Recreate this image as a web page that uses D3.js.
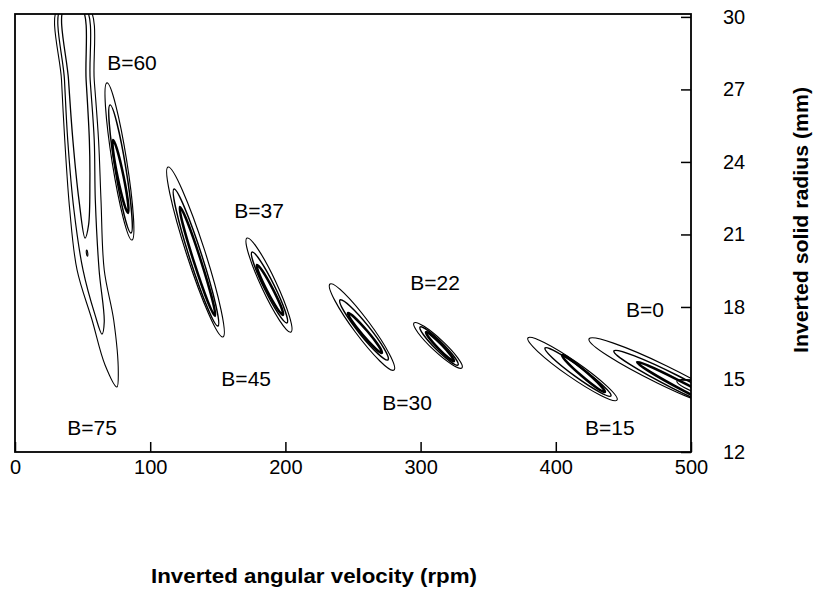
<!DOCTYPE html>
<html><head><meta charset="utf-8">
<script src="https://cdn.jsdelivr.net/npm/d3@7"></script>
<style>body{margin:0;background:#fff}svg{display:block}</style>
</head><body>
<svg id="chart" width="815" height="589"></svg>
<script>
// ---------- data ----------
const rpmTicks = [0, 100, 200, 300, 400, 500];
const radiusTicks = [12, 15, 18, 21, 24, 27, 30];

// group labels and their positions (rpm, mm)
const labelText   = ["B=75", "B=60", "B=45", "B=37", "B=30", "B=22", "B=15", "B=0"];
const labelRpm    = [57, 86.5, 171, 180.5, 290, 310.7, 440, 466];
const labelRadius = [13.0, 28.1, 15.06, 22.0, 14.03, 19.0, 13.0, 17.9];

// elliptical contours: group, level (0 outer, 1 middle, 2 inner), major-axis ends (rpm, mm), half width (rpm)
const ellGroup  = ["B=60","B=60","B=60","B=45","B=45","B=45","B=37","B=37","B=37",
                   "B=30","B=30","B=30","B=22","B=22","B=22","B=15","B=15","B=15",
                   "B=0","B=0","B=0","B=0","B=75"];
const ellLevel  = [0,1,2, 0,1,2, 0,1,2, 0,1,2, 0,1,2, 0,1,2, 0,1,2,0, 0];
const ellStart  = [[68.0,27.27],[70.3,26.36],[72.5,24.91],
                   [113.2,23.79],[117.6,22.88],[122.0,22.14],
                   [171.6,20.85],[175.3,20.27],[179.0,19.74],
                   [233.0,18.95],[240.4,18.29],[246.3,17.75],
                   [295.1,17.34],[299.6,17.17],[304.0,16.96],
                   [379.4,16.72],[392.0,16.30],[404.6,16.01],
                   [424.6,16.68],[443.0,16.18],[460.1,15.72],[489.6,14.94],
                   [53.0,20.35]];
const ellEnd    = [[86.5,20.77],[85.8,21.06],[83.6,21.89],
                   [153.8,16.76],[150.1,17.21],[147.9,17.63],
                   [204.1,16.96],[201.2,17.34],[198.2,17.67],
                   [280.3,15.39],[275.9,15.81],[271.4,16.10],
                   [330.6,15.48],[327.7,15.60],[324.7,15.76],
                   [445.3,14.15],[440.8,14.32],[436.4,14.48],
                   [532.5,13.74],[532.5,13.65],[532.5,13.57],[532.5,14.15],
                   [53.6,20.10]];
const ellHalfW  = [5.4,4.0,2.2, 6.8,4.6,2.6, 5.6,3.8,2.2, 6.2,4.2,2.2,
                   4.6,3.2,1.8, 5.8,3.8,2.2, 7.2,5.0,2.6,4.2, 0.5];

// B=75 curved contours (open beyond the top of the plot), outline points (rpm, mm)
const b75Outer  = [[31.8,30.37],[34.4,27.39],[36.8,24.91],[40.5,22.01],[45.9,19.53],[57.0,17.46],[66.6,15.60],[75.4,14.69],
                   [76.4,15.31],[73.0,17.46],[66.0,19.53],[63.6,22.43],[61.8,24.91],[58.6,27.39],[54.6,30.37]];
const b75Middle = [[34.0,30.37],[36.6,27.39],[39.0,24.91],[43.6,22.01],[50.3,19.53],[59.2,17.67],[64.3,16.88],
                   [66.0,17.38],[62.2,19.53],[59.4,22.43],[58.6,24.91],[55.6,27.39],[52.0,30.37]];
const b75Inner  = [[36.4,30.37],[39.6,27.39],[42.8,24.91],[47.3,22.43],[51.8,20.85],
                   [54.4,21.39],[55.4,23.25],[55.0,24.91],[52.6,27.39],[49.2,30.37]];

const xTitle = "Inverted angular velocity (rpm)";
const yTitle = "Inverted solid radius (mm)";

// ---------- drawing ----------
const FONT = "'Liberation Sans', Arial, Helvetica, sans-serif";
const svg = d3.select("#chart");
const x = d3.scaleLinear().domain([0, 500]).range([15, 691]);
const y = d3.scaleLinear().domain([12, 30.12]).range([452, 14]);

const levelStroke = [1.15, 1.5, 2.5];

svg.append("defs").append("clipPath").attr("id", "plotclip")
  .append("rect").attr("x", x(0)).attr("y", y(30.12))
  .attr("width", x(500) - x(0)).attr("height", y(12) - y(30.12));

const plot = svg.append("g").attr("clip-path", "url(#plotclip)");

// B=75 tubes
const line = d3.line().x(d => x(d[0])).y(d => y(d[1])).curve(d3.curveCatmullRomClosed.alpha(0.5));
[b75Outer, b75Middle, b75Inner].forEach((pts, i) => {
  plot.append("path").attr("d", line(pts))
    .attr("fill", "none").attr("stroke", "#000").attr("stroke-width", [1.1, 1.2, 1.3][i]);
});

// ellipses
ellStart.forEach((s, i) => {
  const e = ellEnd[i];
  const x1 = x(s[0]), y1 = y(s[1]), x2 = x(e[0]), y2 = y(e[1]);
  const cx = (x1 + x2) / 2, cy = (y1 + y2) / 2;
  const rx = Math.hypot(x2 - x1, y2 - y1) / 2;
  const ry = x(ellHalfW[i]) - x(0);
  const ang = Math.atan2(y2 - y1, x2 - x1) * 180 / Math.PI;
  plot.append("ellipse")
    .attr("cx", cx).attr("cy", cy).attr("rx", rx).attr("ry", ry)
    .attr("transform", `rotate(${ang} ${cx} ${cy})`)
    .attr("fill", "none").attr("stroke", "#000")
    .attr("stroke-width", levelStroke[ellLevel[i]]);
});

// frame
svg.append("rect").attr("x", x(0)).attr("y", y(30.12))
  .attr("width", x(500) - x(0)).attr("height", y(12) - y(30.12))
  .attr("fill", "none").attr("stroke", "#000").attr("stroke-width", 1.8);

// x ticks (inward) and labels
const xt = svg.append("g").attr("transform", `translate(0,${y(12)})`)
  .call(d3.axisTop(x).tickValues(rpmTicks).tickSize(10).tickFormat(""));
xt.select(".domain").remove();
xt.selectAll("line").attr("stroke", "#000").attr("stroke-width", 1.5);

const xl = svg.append("g").attr("transform", `translate(0,${y(12)})`)
  .call(d3.axisBottom(x).tickValues(rpmTicks).tickSize(0).tickPadding(8).tickFormat(d3.format("d")));
xl.select(".domain").remove();
xl.selectAll("text").attr("font-family", FONT).attr("font-size", 20).attr("fill", "#000");

// y ticks on right border (inward) and labels outside
const yt = svg.append("g").attr("transform", `translate(${x(500)},0)`)
  .call(d3.axisLeft(y).tickValues(radiusTicks).tickSize(10).tickFormat(""));
yt.select(".domain").remove();
yt.selectAll("line").attr("stroke", "#000").attr("stroke-width", 1.5);

const yl = svg.append("g").attr("transform", `translate(${x(500)},0)`)
  .call(d3.axisRight(y).tickValues(radiusTicks).tickSize(0).tickPadding(32).tickFormat(d3.format("d")));
yl.select(".domain").remove();
yl.selectAll("text").attr("font-family", FONT).attr("font-size", 20).attr("fill", "#000");

// group labels
labelText.forEach((t, i) => {
  svg.append("text").attr("x", x(labelRpm[i])).attr("y", y(labelRadius[i]))
    .attr("text-anchor", "middle").attr("dominant-baseline", "central")
    .attr("font-family", FONT).attr("font-size", 21).attr("fill", "#000").text(t);
});

// axis titles
svg.append("text").attr("x", 314).attr("y", 583)
  .attr("text-anchor", "middle").attr("font-family", FONT).attr("font-weight", "bold")
  .attr("font-size", 20).attr("textLength", 326).attr("lengthAdjust", "spacingAndGlyphs")
  .text(xTitle);
svg.append("text").attr("transform", "translate(808,220) rotate(-90)")
  .attr("text-anchor", "middle").attr("font-family", FONT).attr("font-weight", "bold")
  .attr("font-size", 20).attr("textLength", 266).attr("lengthAdjust", "spacingAndGlyphs")
  .text(yTitle);
</script>
</body></html>
